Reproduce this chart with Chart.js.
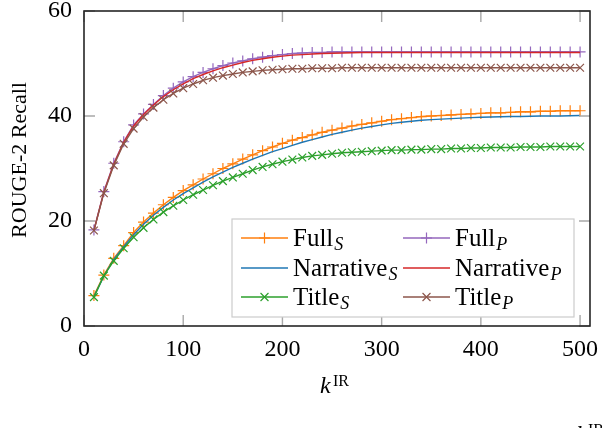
<!DOCTYPE html>
<html>
<head>
<meta charset="utf-8">
<script src="https://cdn.jsdelivr.net/npm/chart.js@4.4.1/dist/chart.umd.min.js"></script>
<style>
  html, body { margin: 0; padding: 0; background: #fff; }
  canvas { display: block; }
</style>
</head>
<body>
<canvas id="myChart" width="604" height="428"></canvas>
<script>
// k^IR values on the x axis
var kValues = [
  10, 20, 30, 40, 50, 60, 70, 80, 90, 100,
  110, 120, 130, 140, 150, 160, 170, 180, 190, 200,
  210, 220, 230, 240, 250, 260, 270, 280, 290, 300,
  310, 320, 330, 340, 350, 360, 370, 380, 390, 400,
  410, 420, 430, 440, 450, 460, 470, 480, 490, 500
];

// ROUGE-2 recall
var fullS = [
  5.8, 9.7, 12.9, 15.3, 17.8, 19.8, 21.5, 23.1, 24.5, 25.8,
  26.9, 28.0, 29.0, 30.0, 30.9, 31.8, 32.6, 33.4, 34.1, 34.8,
  35.4, 35.9, 36.4, 36.9, 37.3, 37.7, 38.1, 38.4, 38.7, 39.0,
  39.3, 39.5, 39.7, 39.9, 40.0, 40.1, 40.2, 40.3, 40.4, 40.5,
  40.6, 40.6, 40.7, 40.8, 40.8, 40.9, 40.9, 41.0, 41.0, 41.0
];
var fullP = [
  18.3, 25.6, 31.0, 35.1, 38.3, 40.4, 42.2, 43.9, 45.3, 46.5,
  47.5, 48.3, 49.0, 49.6, 50.1, 50.5, 50.9, 51.2, 51.5, 51.7,
  51.9, 52.0, 52.1, 52.1, 52.2, 52.2, 52.2, 52.2, 52.2, 52.2,
  52.2, 52.2, 52.2, 52.2, 52.2, 52.2, 52.2, 52.2, 52.2, 52.2,
  52.2, 52.2, 52.2, 52.2, 52.2, 52.2, 52.2, 52.2, 52.2, 52.2
];
var narrS = [
  5.6, 9.5, 12.7, 15.1, 17.4, 19.4, 21.1, 22.6, 24.0, 25.2,
  26.3, 27.4, 28.4, 29.3, 30.2, 31.0, 31.8, 32.5, 33.2, 33.8,
  34.4, 35.0, 35.5, 36.0, 36.5, 36.9, 37.3, 37.7, 38.0, 38.3,
  38.6, 38.8, 39.0, 39.2, 39.3, 39.4, 39.5, 39.6, 39.7, 39.75,
  39.8, 39.85, 39.9, 39.9, 39.95, 40.0, 40.0, 40.0, 40.05, 40.1
];
var narrP = [
  18.2, 25.5, 30.8, 35.0, 38.1, 40.3, 42.1, 43.7, 45.0, 46.1,
  47.1, 47.9, 48.6, 49.2, 49.7, 50.2, 50.6, 50.9, 51.2, 51.4,
  51.6, 51.7, 51.8, 51.9, 51.95, 52.0, 52.05, 52.1, 52.1, 52.1,
  52.1, 52.1, 52.1, 52.1, 52.1, 52.1, 52.1, 52.1, 52.1, 52.1,
  52.1, 52.1, 52.1, 52.1, 52.1, 52.1, 52.1, 52.1, 52.1, 52.1
];
var titleS = [
  5.5, 9.6, 12.4, 14.8, 16.9, 18.7, 20.3, 21.7, 22.9, 24.0,
  25.0, 25.9, 26.8, 27.6, 28.3, 29.0, 29.7, 30.3, 30.8, 31.3,
  31.7, 32.1, 32.4, 32.6, 32.8, 33.0, 33.1, 33.2, 33.3, 33.4,
  33.5, 33.5, 33.6, 33.6, 33.7, 33.7, 33.8, 33.8, 33.9, 33.9,
  34.0, 34.0, 34.0, 34.1, 34.1, 34.1, 34.2, 34.2, 34.2, 34.2
];
var titleP = [
  18.2, 25.3, 30.6, 34.7, 37.6, 39.8, 41.6, 43.1, 44.3, 45.3,
  46.1, 46.8, 47.3, 47.7, 48.0, 48.3, 48.5, 48.7, 48.8, 48.9,
  49.0, 49.0, 49.1, 49.1, 49.1, 49.2, 49.2, 49.2, 49.2, 49.2,
  49.2, 49.2, 49.2, 49.2, 49.2, 49.2, 49.2, 49.2, 49.2, 49.2,
  49.2, 49.2, 49.2, 49.2, 49.2, 49.2, 49.2, 49.2, 49.2, 49.2
];

var xTickValues = [0, 100, 200, 300, 400, 500];
var yTickValues = [0, 20, 40, 60];

// legend order (row by row, two columns)
var seriesNames = ['Full', 'Full', 'Narrative', 'Narrative', 'Title', 'Title'];
var seriesSubs = ['S', 'P', 'S', 'P', 'S', 'P'];
var seriesColors = ['#ff7f0e', '#9467bd', '#1f77b4', '#d62728', '#2ca02c', '#8c564b'];
var seriesMarkers = ['cross', 'cross', false, false, 'crossRot', 'crossRot'];
var seriesValues = [fullS, fullP, narrS, narrP, titleS, titleP];

const serif = '"Liberation Serif", "DejaVu Serif", serif';

function toPoints(vals) {
  return vals.map((v, i) => ({ x: kValues[i], y: v }));
}

const datasets = seriesValues.map((vals, i) => ({
  label: seriesNames[i] + seriesSubs[i],
  data: toPoints(vals),
  borderColor: seriesColors[i],
  backgroundColor: seriesColors[i],
  borderWidth: 1.4,
  pointStyle: seriesMarkers[i] || 'circle',
  pointRadius: seriesMarkers[i] ? 5.5 : 0,
  pointBorderWidth: 1.2,
  pointBorderColor: seriesColors[i],
  fill: false,
  tension: 0,
  order: seriesValues.length - i // last one on top, like pgfplots
}));

function drawMarker(ctx, kind, cx, cy, r) {
  ctx.beginPath();
  if (kind === 'cross') {
    ctx.moveTo(cx - r, cy); ctx.lineTo(cx + r, cy);
    ctx.moveTo(cx, cy - r); ctx.lineTo(cx, cy + r);
  } else if (kind === 'crossRot') {
    const d = r * 0.72;
    ctx.moveTo(cx - d, cy - d); ctx.lineTo(cx + d, cy + d);
    ctx.moveTo(cx - d, cy + d); ctx.lineTo(cx + d, cy - d);
  }
  ctx.stroke();
}

// box, inward ticks, legend and axis titles
const decor = {
  id: 'decor',
  afterDatasetsDraw(chart) {
    const { ctx, chartArea: a, scales: { x, y } } = chart;
    ctx.save();
    ctx.strokeStyle = '#a8a8a8';
    ctx.lineWidth = 1.4;
    ctx.beginPath();
    xTickValues.forEach(v => {
      const px = x.getPixelForValue(v);
      ctx.moveTo(px, a.bottom); ctx.lineTo(px, a.bottom - 11);
      ctx.moveTo(px, a.top); ctx.lineTo(px, a.top + 11);
    });
    yTickValues.forEach(v => {
      const py = y.getPixelForValue(v);
      ctx.moveTo(a.left, py); ctx.lineTo(a.left + 11, py);
      ctx.moveTo(a.right, py); ctx.lineTo(a.right - 11, py);
    });
    ctx.stroke();
    ctx.strokeStyle = '#262626';
    ctx.lineWidth = 1.6;
    ctx.strokeRect(a.left, a.top, a.right - a.left, a.bottom - a.top);
    ctx.restore();
  },
  afterDraw(chart) {
    const { ctx, chartArea: a } = chart;
    ctx.save();

    // legend
    const bx = a.right - 358, by = a.bottom - 107, bw = 342, bh = 98;
    ctx.fillStyle = '#fff';
    ctx.fillRect(bx, by, bw, bh);
    ctx.strokeStyle = '#cccccc';
    ctx.lineWidth = 1.2;
    ctx.strokeRect(bx, by, bw, bh);
    const colX = [bx + 9, bx + 171];
    const rowY = [by + 19, by + 49, by + 78];
    seriesNames.forEach((name, i) => {
      const lx = colX[i % 2], ly = rowY[Math.floor(i / 2)];
      ctx.strokeStyle = seriesColors[i];
      ctx.lineWidth = 1.4;
      ctx.beginPath();
      ctx.moveTo(lx, ly); ctx.lineTo(lx + 47, ly);
      ctx.stroke();
      if (seriesMarkers[i]) {
        ctx.lineWidth = 1.2;
        drawMarker(ctx, seriesMarkers[i], lx + 23.5, ly, 5.5);
      }
      ctx.fillStyle = '#000';
      ctx.textBaseline = 'alphabetic';
      ctx.textAlign = 'left';
      ctx.font = '25px ' + serif;
      ctx.fillText(name, lx + 52, ly + 8);
      const w = ctx.measureText(name).width;
      ctx.font = 'italic 18px ' + serif;
      ctx.fillText(seriesSubs[i], lx + 53 + w, ly + 12);
    });

    // y title
    ctx.fillStyle = '#000';
    ctx.save();
    ctx.translate(26, 160);
    ctx.rotate(-Math.PI / 2);
    ctx.textAlign = 'center';
    ctx.textBaseline = 'alphabetic';
    ctx.font = '22px ' + serif;
    ctx.fillText('ROUGE-2 Recall', 0, 0);
    ctx.restore();

    // x title k^IR
    ctx.textAlign = 'left';
    ctx.font = 'italic 24px ' + serif;
    ctx.fillText('k', 320, 393);
    ctx.font = '16px ' + serif;
    ctx.fillText('IR', 333, 386);

    // cut-off text at the bottom edge of the figure
    ctx.font = 'italic 24px ' + serif;
    ctx.fillText('k', 576, 442);
    ctx.font = '16px ' + serif;
    ctx.fillText('IR', 588, 435);
    ctx.restore();
  }
};

const chart = new Chart(document.getElementById('myChart').getContext('2d'), {
  type: 'line',
  data: { datasets: datasets },
  options: {
    responsive: false,
    animation: false,
    layout: { padding: { top: 11, right: 14, left: 0, bottom: 0 } },
    plugins: { legend: { display: false }, tooltip: { enabled: false } },
    scales: {
      x: {
        type: 'linear',
        min: 0,
        max: 510,
        grid: { display: false, drawTicks: false },
        border: { display: false },
        ticks: { color: '#000', font: { family: serif, size: 24 }, padding: 9, maxRotation: 0 },
        afterBuildTicks: (s) => { s.ticks = xTickValues.map(v => ({ value: v })); },
        afterFit: (s) => { s.height = 102; s.paddingLeft = 0; s.paddingRight = 0; }
      },
      y: {
        min: 0,
        max: 60,
        grid: { display: false, drawTicks: false },
        border: { display: false },
        ticks: { color: '#000', font: { family: serif, size: 24 }, padding: 12 },
        afterBuildTicks: (s) => { s.ticks = yTickValues.map(v => ({ value: v })); },
        afterFit: (s) => { s.width = 84; s.paddingTop = 0; s.paddingBottom = 0; }
      }
    }
  },
  plugins: [decor]
});
</script>
</body>
</html>
